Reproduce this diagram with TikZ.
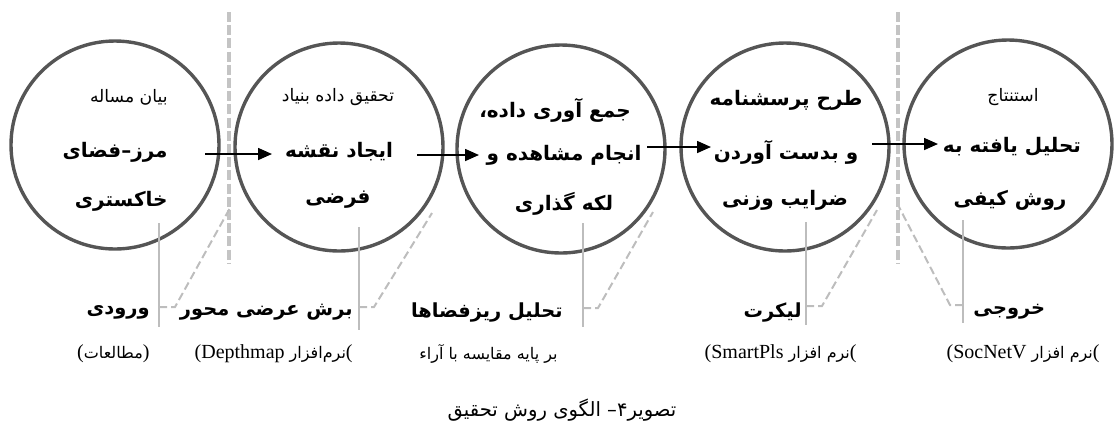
\documentclass[tikz,border=0pt]{standalone}
\usepackage{fontspec}
\setmainfont{Liberation Serif}
\newfontfamily\fa[Script=Arabic]{DejaVu Sans}
\TeXXeTstate=1
\usetikzlibrary{arrows.meta}
\definecolor{circc}{HTML}{555555}
\definecolor{divc}{HTML}{C4C4C4}
\definecolor{callc}{HTML}{BDBDBD}
\newcommand{\fasub}{\fa\fontsize{8}{10}\selectfont}
\begin{document}
\begin{tikzpicture}[x=0.5pt,y=-0.5pt,
  circ/.style={circle, draw=circc, line width=1.7pt, minimum size=104pt, inner sep=0pt},
  divider/.style={draw=divc, line width=2pt, dash pattern=on 5pt off 1.6pt},
  arr/.style={draw=black, line width=0.8pt, -{Triangle[length=7pt,width=6pt]}},
  callv/.style={draw=callc, line width=1pt},
  calld/.style={draw=callc, line width=1pt, dash pattern=on 4pt off 2pt},
  reg/.style={font=\fa\fontsize{8.6}{10}\selectfont, inner sep=0pt},
  bld/.style={font=\fa\bfseries\fontsize{10}{12}\selectfont, inner sep=0pt},
  lab/.style={font=\fa\bfseries\fontsize{9.7}{12}\selectfont, inner sep=0pt},
  subtxt/.style={font=\fontsize{10}{12}\selectfont, inner sep=0pt},
  captxt/.style={font=\fa\fontsize{9.8}{12}\selectfont, inner sep=0pt}]
\useasboundingbox (0,0) rectangle (1114,425);

% dividers
\coordinate (d1t) at (229,12); \coordinate (d1b) at (229,263);
\coordinate (d2t) at (898,12); \coordinate (d2b) at (898,263);
\draw[divider] (d1t) -- (d1b);
\draw[divider] (d2t) -- (d2b);

% circles
\node[circ] (c1) at (115,145) {};
\node[circ] (c2) at (339,147) {};
\node[circ] (c3) at (561,149) {};
\node[circ] (c4) at (785,147) {};
\node[circ] (c5) at (1008,144) {};

% arrows
\coordinate (a1s) at (205,154); \coordinate (a1e) at (272,154);
\coordinate (a2s) at (417,155); \coordinate (a2e) at (479,155);
\coordinate (a3s) at (647,147); \coordinate (a3e) at (711,147);
\coordinate (a4s) at (872,144); \coordinate (a4e) at (938,144);
\draw[arr] (a1s) -- (a1e);
\draw[arr] (a2s) -- (a2e);
\draw[arr] (a3s) -- (a3e);
\draw[arr] (a4s) -- (a4e);

% callouts
\coordinate (v1t) at (159,223); \coordinate (v1b) at (159,327);
\coordinate (v2t) at (359,227); \coordinate (v2b) at (359,330);
\coordinate (v3t) at (583,223); \coordinate (v3b) at (583,327);
\coordinate (v4t) at (806,222); \coordinate (v4b) at (806,325);
\coordinate (v5t) at (963,220); \coordinate (v5b) at (963,323);
\draw[callv] (v1t) -- (v1b);
\draw[callv] (v2t) -- (v2b);
\draw[callv] (v3t) -- (v3b);
\draw[callv] (v4t) -- (v4b);
\draw[callv] (v5t) -- (v5b);
\coordinate (k1a) at (159,307); \coordinate (k1b) at (175,307); \coordinate (k1c) at (230,208);
\coordinate (k2a) at (359,307); \coordinate (k2b) at (374,307); \coordinate (k2c) at (432,213);
\coordinate (k3a) at (583,308); \coordinate (k3b) at (598,308); \coordinate (k3c) at (653,212);
\coordinate (k4a) at (806,306); \coordinate (k4b) at (822,306); \coordinate (k4c) at (877,210);
\coordinate (k5a) at (963,305); \coordinate (k5b) at (950,305); \coordinate (k5c) at (899,207);
\draw[calld] (k1a) -- (k1b) -- (k1c);
\draw[calld] (k2a) -- (k2b) -- (k2c);
\draw[calld] (k3a) -- (k3b) -- (k3c);
\draw[calld] (k4a) -- (k4b) -- (k4c);
\draw[calld] (k5a) -- (k5b) -- (k5c);

% circle texts
\node[reg, anchor=east] (t11) at (168,97) {\beginR بیان مساله\endR};
\node[bld, anchor=east] (t12) at (168,152) {\beginR مرز–فضای\endR};
\node[bld, anchor=east] (t13) at (168,201) {\beginR خاکستری\endR};

\node[reg] (t21) at (338,97) {\beginR تحقیق داده بنیاد\endR};
\node[bld] (t22) at (339,152) {\beginR ایجاد نقشه\endR};
\node[bld] (t23) at (338,200) {\beginR فرضی\endR};

\node[bld] (t31) at (555,110) {\beginR جمع آوری داده،\endR};
\node[bld] (t32) at (564,155) {\beginR انجام مشاهده و\endR};
\node[bld] (t33) at (564,204) {\beginR لکه گذاری\endR};

\node[bld] (t41) at (786,100) {\beginR طرح پرسشنامه\endR};
\node[bld] (t42) at (786,152) {\beginR و بدست آوردن\endR};
\node[bld] (t43) at (785,200) {\beginR ضرایب وزنی\endR};

\node[reg] (t51) at (1013,97) {\beginR استنتاج\endR};
\node[bld] (t52) at (1012,147) {\beginR تحلیل یافته به\endR};
\node[bld] (t53) at (1010,200) {\beginR روش کیفی\endR};

% bottom labels
\node[lab, anchor=east] (b1) at (150,312) {\beginR ورودی\endR};
\node[subtxt, anchor=east] (s1) at (150,354) {({\fasub\beginR مطالعات\endR})};
\node[lab, anchor=east] (b2) at (353,312) {\beginR برش عرضی محور\endR};
\node[subtxt, anchor=east] (s2) at (353,354) {(Depthmap {\fasub\beginR نرم‌افزار\endR}(};
\node[lab, anchor=east] (b3) at (563,312) {\beginR تحلیل ریزفضاها\endR};
\node[subtxt, anchor=east] (s3) at (558,354) {{\fasub\beginR بر پایه مقایسه با آراء\endR}};
\node[lab, anchor=east] (b4) at (802,312) {\beginR لیکرت\endR};
\node[subtxt, anchor=east] (s4) at (857,354) {(SmartPls {\fasub\beginR نرم افزار\endR}(};
\node[lab, anchor=west] (b5) at (973,312) {\beginR خروجی\endR};
\node[subtxt, anchor=east] (s5) at (1100,354) {(SocNetV {\fasub\beginR نرم افزار\endR}(};

% caption
\node[captxt] (capt) at (562,410) {\beginR تصویر۴– الگوی روش تحقیق\endR};
\end{tikzpicture}
\end{document}
